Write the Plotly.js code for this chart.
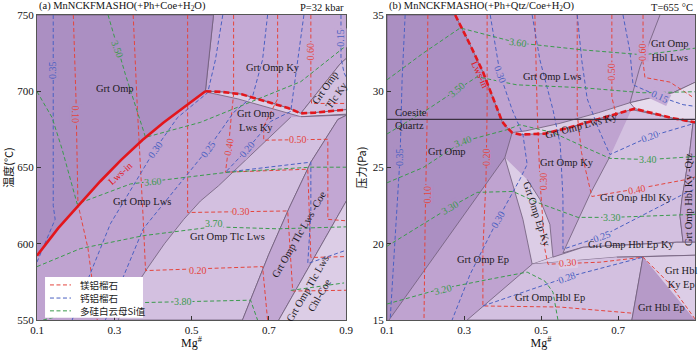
<!DOCTYPE html>
<html><head><meta charset="utf-8">
<script src="https://cdn.plot.ly/plotly-3.0.1.min.js"></script>
<style>body{margin:0;background:#fff}#chart{width:700px;height:350px}</style>
</head><body><div id="chart"></div>
<script>
// ---------------- ticks ----------------
const mgTicks = [0.1, 0.3, 0.5, 0.7, 0.9];
const tTicks = [550, 600, 650, 700, 750];
const pTicks = [15, 20, 25, 30, 35];

// ---------------- panel (a): Mg# vs T(°C) fields ----------------
const aLwsInX = [0.536, 0.482, 0.427, 0.373, 0.318, 0.264, 0.209, 0.155, 0.1];
const aLwsInT = [700, 690, 679.4, 668, 655, 641, 625.7, 610.2, 592.2];
const aGrtOmpX = [0.1, 0.557].concat(aLwsInX);
const aGrtOmpT = [750, 750].concat(aLwsInT);
const aKyX = [0.557, 0.536, 0.58, 0.63, 0.70, 0.75, 0.783, 0.885, 0.903, 0.903];
const aKyT = [750, 700, 699.5, 698, 693, 689, 685.5, 718, 722, 750];
const aTlcKyX = [0.783, 0.885, 0.903, 0.903, 0.82];
const aTlcKyT = [685.5, 718, 722, 688, 686];
const aLwsKyX = [0.536, 0.58, 0.63, 0.70, 0.75, 0.783, 0.82, 0.903, 0.903, 0.783, 0.70, 0.62, 0.542];
const aLwsKyT = [700, 699.5, 698, 693, 689, 685.5, 686, 688, 685, 683.3, 689.5, 695, 699.3];
const aTlcLwsX = [0.757, 0.66, 0.57, 0.523, 0.48, 0.43, 0.386, 0.34, 0.31, 0.632, 0.70, 0.752, 0.809, 0.879, 0.903, 0.783];
const aTlcLwsT = [683, 660, 638, 628, 616, 600, 584, 566, 550, 550, 593, 623, 653.5, 681.5, 684.5, 683.3];
const aBandX = [0.632, 0.70, 0.752, 0.809, 0.879, 0.903, 0.903, 0.726];
const aBandT = [550, 593, 623, 653.5, 681.5, 684.5, 629, 550];
const aChlX = [0.726, 0.903, 0.903];
const aChlT = [550, 629, 550];
const aLwsDashX = [0.536, 0.58, 0.63, 0.70, 0.75, 0.783, 0.82, 0.903];
const aLwsDashT = [700, 699.5, 698, 693, 689, 685.5, 686, 688];

// panel (a) isopleths
const aPy10X = [0.194, 0.201, 0.206, 0.232, 0.256], aPy10T = [750, 694.6, 626, 597, 550];
const aPy20X = [0.349, 0.36, 0.375, 0.381, 0.684, 0.697], aPy20T = [750, 688, 616, 582.4, 585, 550];
const aPy30X = [0.49, 0.49, 0.749, 0.762, 0.903], aPy30T = [750, 620.5, 621.5, 569, 569.5];
const aPy40X = [0.609, 0.609, 0.601, 0.596, 0.588, 0.801, 0.809, 0.903], aPy40T = [750, 698, 678.3, 663.3, 646.9, 648.9, 591, 591.6];
const aPy50X = [0.723, 0.723, 0.687, 0.687, 0.853, 0.853, 0.903], aPy50T = [750, 695, 677, 667.9, 668.5, 616, 615];
const aPy60X = [0.809, 0.809, 0.811, 0.903], aPy60T = [750, 697, 692, 692];
const aGr35X = [0.142, 0.142, 0.147, 0.1], aGr35T = [750, 625, 616, 588];
const aGr30X = [0.581, 0.562, 0.542, 0.464, 0.406, 0.29, 0.212, 0.191], aGr30T = [750, 720.7, 699.1, 682.8, 662, 613.1, 564.2, 550];
const aGr25X = [0.697, 0.684, 0.658, 0.609, 0.542, 0.375, 0.277], aGr25T = [750, 720.7, 696.5, 686.1, 662, 609.8, 550];
const aGr20X = [0.791, 0.775, 0.757, 0.705, 0.64, 0.588, 0.809, 0.809, 0.801, 0.903], aGr20T = [750, 720.7, 686.8, 680.2, 660.7, 646.9, 653.5, 620, 587, 596];
const aGr15X = [0.887, 0.887, 0.895, 0.903], aGr15T = [750, 722, 712, 708];
const aSi50X = [0.284, 0.329, 0.381, 0.523, 0.783, 0.903], aSi50T = [750, 710.9, 669.8, 679.6, 706.3, 730.4];
const aSi60X = [0.1, 0.139, 0.165, 0.204, 0.342, 0.594, 0.809, 0.903], aSi60T = [699.8, 682.8, 662, 626.1, 639.2, 646.9, 650.2, 650.2];
const aSi70X = [0.1, 0.212, 0.375, 0.557, 0.723, 0.903], aSi70T = [585, 596.8, 605.3, 611.1, 609.8, 611.1];
const aSi80X = [0.116, 0.29, 0.479, 0.653, 0.671, null, 0.757, 0.895], aSi80T = [550, 561, 562, 563, 550, null, 569.4, 574.3];

// ---------------- panel (b): Mg# vs P fields ----------------
const bLwsInX = [0.277, 0.316, 0.349, 0.381, 0.399, 0.412, 0.425, 0.445, 0.51, 0.57, 0.65, 0.744, 0.835, 0.905];
const bLwsInP = [35, 33.04, 31.27, 29.12, 28.01, 27.61, 27.29, 27.16, 27.22, 27.6, 28.2, 28.86, 28.27, 27.94];
const bGrtOmpX = [0.1, 0.1, 0.277, 0.316, 0.349, 0.381, 0.399, 0.412, 0.425, 0.406, 0.105];
const bGrtOmpP = [15, 35, 35, 33.04, 31.27, 29.12, 28.01, 27.61, 27.29, 25.65, 15];
const bHblLwsX = [0.809, 0.757, 0.731, 0.843, 0.903, 0.903];
const bHblLwsP = [35, 31.6, 29.25, 29.9, 30.62, 35];
const bPaleX = [0.731, 0.843, 0.903, 0.903, 0.835, 0.744];
const bPaleP = [29.25, 29.9, 30.62, 27.94, 28.27, 28.86];
const bLwsKyX = [0.425, 0.46, 0.55, 0.65, 0.731, 0.744, 0.65, 0.57, 0.51, 0.445];
const bLwsKyP = [27.29, 27.4, 27.9, 28.6, 29.25, 28.86, 28.2, 27.6, 27.22, 27.16];
const bHblKyX = [0.735, 0.835, 0.895, 0.887, 0.866, 0.861, 0.869, 0.853, 0.609, 0.557, 0.596, 0.627, 0.679];
const bHblKyP = [28.8, 28.27, 27.94, 26.18, 22.91, 21.8, 20.1, 20.1, 19.77, 19.4, 21.6, 23.24, 25.72];
const bQtzX = [0.895, 0.887, 0.866, 0.861, 0.869, 0.903, 0.903];
const bQtzP = [27.94, 26.18, 22.91, 21.8, 20.1, 20.1, 27.94];
const bEpKyX = [0.406, 0.427, 0.453, 0.477, 0.531, 0.523, 0.497, 0.464];
const bEpKyP = [25.65, 23.89, 21.6, 18.66, 19.12, 21.27, 22.91, 24.22];
const bHblEpKyX = [0.531, 0.609, 0.853, 0.903, 0.903, 0.697, 0.477];
const bHblEpKyP = [19.12, 19.77, 20.1, 20.1, 19.25, 19.12, 18.66];
const bHblEpX = [0.477, 0.349, 0.308, 0.736, 0.765, 0.697];
const bHblEpP = [18.66, 15.92, 15, 15, 19.15, 19.12];
const bGrtHblEpX = [0.765, 0.736, 0.90];
const bGrtHblEpP = [19.15, 15, 15];
const bHblKyEpX = [0.765, 0.903, 0.903, 0.90];
const bHblKyEpP = [19.15, 19.25, 15.2, 15];
const bCoeQzX = [0.1, 0.9], bCoeQzP = [28.15, 28.15];

// panel (b) isopleths
const bPy10X = [0.206, 0.204, 0.199, 0.196], bPy10P = [35, 28, 21.6, 15];
const bPy20X = [0.36, 0.36, 0.357, 0.349, 0.349, 0.549, 0.736], bPy20P = [35, 28.79, 24.22, 19.64, 15.92, 15.85, 15.45];
const bPy30X = [0.484, 0.49, 0.497, 0.505, 0.51, 0.518, 0.653, 0.765, 0.835, 0.90], bPy30P = [35, 28.79, 24.22, 21.6, 19.64, 18.66, 18.79, 19.12, 17.35, 15.07];
const bPy40X = [0.594, 0.594, 0.605, 0.632, 0.749, 0.879, 0.903], bPy40P = [35, 28.5, 26, 23.1, 23.6, 24.22, 24.4];
const bPy50X = [0.684, 0.684, 0.697], bPy50P = [35, 29.6, 28.3];
const bPy60X = [0.765, 0.765, 0.77, 0.835, 0.895], bPy60P = [35, 31.9, 30.9, 30.6, 29.6];
const bGr35X = [0.147, 0.139, 0.134, 0.121, 0.108], bGr35P = [35, 30.7, 25.8, 20.5, 15];
const bGr30X = [0.368, 0.394, 0.425, 0.453, 0.464, 0.445, 0.388, 0.316, 0.269], bGr30P = [35, 31.08, 28.79, 27.16, 25.2, 24.22, 21.6, 18.01, 15];
const bGr28X = [0.349, 0.568, 0.765], bGr28P = [15.92, 17.81, 19.12];
const bGr25X = [0.477, 0.497, 0.531, 0.55, 0.557, 0.557, 0.658, 0.879, 0.903], bGr25P = [35, 32.06, 28.79, 26.5, 23, 19.64, 20.49, 23.37, 23.6];
const bGr20X = [0.594, 0.606, 0.62, 0.65, 0.679, 0.783, 0.887, 0.903], bGr20P = [35, 32, 29.5, 27.5, 25.85, 27.03, 27.81, 27.95];
const bGr15X = [0.713, 0.731, 0.739, 0.809, 0.869, 0.903], bGr15P = [35, 32.6, 30.42, 29.64, 29.12, 29.0];
const bSi60X = [0.1, 0.194, 0.29, 0.44, 0.609, 0.765, 0.905], bSi60P = [30.75, 32.5, 34.15, 33.17, 32.71, 32.39, 32.84];
const bSi50X = [0.1, 0.204, 0.282, 0.334, 0.437, 0.609, 0.765, 0.905], bSi50P = [27.2, 28.79, 30.1, 30.95, 30.42, 30.23, 29.9, 29.97];
const bSi40X = [0.1, 0.194, 0.297, 0.412, 0.445, 0.531, 0.627, 0.679, 0.778, 0.903], bSi40P = [24.0, 25.0, 26.7, 27.48, 27.8, 27.29, 26.18, 25.6, 25.52, 25.72];
const bSi30X = [0.1, 0.264, 0.334, 0.427, 0.49, 0.596, 0.684, 0.879, 0.903], bSi30P = [19.84, 22.39, 23.37, 23.43, 22.71, 21.73, 21.73, 21.93, 21.93];
const bSi20X = [0.1, 0.238, 0.368, 0.464, 0.51, 0.531, 0.544], bSi20P = [16.05, 17.03, 17.68, 18.14, 17.55, 16.83, 15];

// ---------------- labels ----------------
const aFieldText = ["Grt Omp", "Grt Omp Ky", "Grt Omp<br>Tlc Ky", "Grt Omp<br>Lws Ky", "Grt Omp Lws", "Grt Omp Tlc Lws", "Grt Omp Tlc Lws -Coe", "Grt Omp Tlc Lws<br>Chl-Coe"];
const aFieldX = [0.303, 0.71, 0.861, 0.666, 0.373, 0.594, 0.778, 0.817];
const aFieldT = [701.7, 715.4, 699.8, 681, 627.4, 604.6, 606, 568.7];
const aFieldAng = [0, 0, -55, 0, 0, 0, -60, -60];

const aValText = ["0.35", "0.10", "3.50", "0.30", "0.25", "0.40", "0.20", "0.50", "3.60", "0.30", "3.70", "0.20", "3.80", "0.15", "0.60", "Lws-in"];
const aValX = [0.142, 0.201, 0.308, 0.406, 0.542, 0.596, 0.643, 0.775, 0.401, 0.627, 0.557, 0.516, 0.479, 0.887, 0.809, 0.315];
const aValT = [714, 684.8, 727.2, 662, 662, 663.3, 662, 668.5, 641.1, 620.9, 613, 582.4, 562.2, 735, 725.9, 646];
const aValAng = [-90, 90, 70, -55, -55, -80, -50, 0, -5, 0, 0, 0, 0, -90, -90, -42];
const aValKind = ["gr", "py", "si", "gr", "gr", "py", "gr", "py", "si", "py", "si", "py", "si", "gr", "py", "lws"];
const aValBg = ["dark", "dark", "dark", "mid", "mid", "mid", "mid", "light", "mid", "light", "light", "light", "light", "ky", "ky", "none"];

const bFieldText = ["Grt Omp Lws", "Grt Omp<br>Hbl Lws", "Grt Omp", "Grt Omp Lws Ky", "Grt Omp Ky", "Grt Omp Hbl Ky", "Grt Omp Hbl Ky -Qtz", "Grt Omp Ep Ky", "Grt Omp Hbl Ep Ky", "Grt Omp Ep", "Grt Omp Hbl Ep", "Grt Hbl Ep", "Grt Hbl<br>Ky Ep"];
const bFieldX = [0.529, 0.835, 0.256, 0.606, 0.568, 0.747, 0.883, 0.49, 0.734, 0.349, 0.523, 0.814, 0.864];
const bFieldP = [30.95, 32.7, 26.04, 27.75, 25.33, 23.04, 22.9, 21.93, 19.97, 18.99, 16.5, 15.85, 17.81];
const bFieldAng = [0, 0, 0, -15, 0, 0, -90, 72, 0, 0, 0, 0, 0];
const bPhaseText = ["Coesite", "Quartz"];
const bPhaseX = [0.118, 0.118];
const bPhaseP = [28.62, 27.75];

const bValText = ["0.35", "0.10", "0.20", "0.30", "0.50", "0.60", "0.40", "0.30", "0.30", "0.30", "0.15", "0.20", "0.25", "0.28", "3.60", "3.50", "3.40", "3.40", "3.30", "3.30", "3.20", "Lws-in"];
const bValX = [0.134, 0.204, 0.36, 0.505, 0.684, 0.765, 0.749, 0.57, 0.394, 0.388, 0.809, 0.783, 0.658, 0.568, 0.44, 0.282, 0.297, 0.778, 0.264, 0.684, 0.245, 0.342];
const bValP = [25.7, 23.24, 25.7, 24.09, 31.27, 32.58, 23.56, 18.79, 31.08, 21.6, 29.64, 27.03, 20.49, 17.81, 33.17, 30.1, 26.7, 25.52, 22.39, 21.73, 17.03, 31.1];
const bValAng = [-90, -90, -90, -90, -90, -90, -10, -5, 70, -60, 25, -20, -20, -20, 8, -40, -20, 0, -30, 0, -15, 65];
const bValKind = ["gr", "py", "py", "py", "py", "py", "py", "py", "gr", "gr", "gr", "gr", "gr", "gr", "si", "si", "si", "si", "si", "si", "si", "lws"];
const bValBg = ["dark", "dark", "dark", "mid", "mid", "mid", "light", "paler", "mid", "mid", "ky", "light", "light", "light", "mid", "dark", "dark", "light", "dark", "light", "mid", "none"];

// legend
const legendText = ["镁铝榴石", "钙铝榴石", "多硅白云母Si值"];
const legendKind = ["py", "gr", "si"];

// ---------------- styling ----------------
const SERIF = "Liberation Serif, 'Times New Roman', 'Noto Sans CJK SC', serif";
const CJK = "'Noto Sans CJK SC', 'Liberation Serif', serif";
const COL = {py: "#e4453d", gr: "#4a60c2", si: "#3b9a4d", lws: "#e3161c"};
const FILL = {dark: "#ab8fc2", mid: "#bfa3d0", ky: "#c4aad5", light: "#d3c0e0", paler: "#dccde6", palest: "#e6dbed", band: "#c2a7d3", hblep: "#b69ac8", none: "rgba(0,0,0,0)"};
const DASH = "4px,2.5px";

const traces = [];
function poly(x, y, color, xa, ya) {
  traces.push({type: "scatter", mode: "lines", x: x, y: y, fill: "toself", fillcolor: color,
    line: {color: "#6e5d78", width: 0.8}, xaxis: xa, yaxis: ya, hoverinfo: "skip", showlegend: false});
}
function iso(x, y, kind, xa, ya) {
  traces.push({type: "scatter", mode: "lines", x: x, y: y, connectgaps: false,
    line: {color: COL[kind], width: 1, dash: DASH}, xaxis: xa, yaxis: ya, hoverinfo: "skip", showlegend: false});
}
function thick(x, y, dash, xa, ya) {
  traces.push({type: "scatter", mode: "lines", x: x, y: y,
    line: {color: COL.lws, width: 2.6, dash: dash}, xaxis: xa, yaxis: ya, hoverinfo: "skip", showlegend: false});
}

// panel a fields
poly(aKyX, aKyT, FILL.ky, "x", "y");
poly(aGrtOmpX, aGrtOmpT, FILL.dark, "x", "y");
poly(aTlcKyX, aTlcKyT, FILL.light, "x", "y");
poly(aLwsKyX, aLwsKyT, FILL.paler, "x", "y");
poly(aTlcLwsX, aTlcLwsT, FILL.light, "x", "y");
poly(aBandX, aBandT, FILL.band, "x", "y");
poly(aChlX, aChlT, FILL.paler, "x", "y");
// panel b fields
poly(bGrtOmpX, bGrtOmpP, FILL.dark, "x2", "y2");
poly(bHblLwsX, bHblLwsP, FILL.ky, "x2", "y2");
poly(bPaleX, bPaleP, FILL.palest, "x2", "y2");
poly(bLwsKyX, bLwsKyP, FILL.paler, "x2", "y2");
poly(bHblKyX, bHblKyP, FILL.light, "x2", "y2");
poly(bQtzX, bQtzP, FILL.band, "x2", "y2");
poly(bEpKyX, bEpKyP, FILL.paler, "x2", "y2");
poly(bHblEpKyX, bHblEpKyP, FILL.paler, "x2", "y2");
poly(bHblEpX, bHblEpP, FILL.light, "x2", "y2");
poly(bGrtHblEpX, bGrtHblEpP, FILL.hblep, "x2", "y2");
poly(bHblKyEpX, bHblKyEpP, FILL.paler, "x2", "y2");

// isopleths
[[aPy10X, aPy10T], [aPy20X, aPy20T], [aPy30X, aPy30T], [aPy40X, aPy40T], [aPy50X, aPy50T], [aPy60X, aPy60T]].forEach(d => iso(d[0], d[1], "py", "x", "y"));
[[aGr35X, aGr35T], [aGr30X, aGr30T], [aGr25X, aGr25T], [aGr20X, aGr20T], [aGr15X, aGr15T]].forEach(d => iso(d[0], d[1], "gr", "x", "y"));
[[aSi50X, aSi50T], [aSi60X, aSi60T], [aSi70X, aSi70T], [aSi80X, aSi80T]].forEach(d => iso(d[0], d[1], "si", "x", "y"));
[[bPy10X, bPy10P], [bPy20X, bPy20P], [bPy30X, bPy30P], [bPy40X, bPy40P], [bPy50X, bPy50P], [bPy60X, bPy60P]].forEach(d => iso(d[0], d[1], "py", "x2", "y2"));
[[bGr35X, bGr35P], [bGr30X, bGr30P], [bGr28X, bGr28P], [bGr25X, bGr25P], [bGr20X, bGr20P], [bGr15X, bGr15P]].forEach(d => iso(d[0], d[1], "gr", "x2", "y2"));
[[bSi60X, bSi60P], [bSi50X, bSi50P], [bSi40X, bSi40P], [bSi30X, bSi30P], [bSi20X, bSi20P]].forEach(d => iso(d[0], d[1], "si", "x2", "y2"));

// Lws-in and coesite/quartz
thick(aLwsInX, aLwsInT, "solid", "x", "y");
thick(aLwsDashX, aLwsDashT, "6px,3px", "x", "y");
thick(bLwsInX, bLwsInP, "6px,3px", "x2", "y2");
traces.push({type: "scatter", mode: "lines", x: bCoeQzX, y: bCoeQzP, line: {color: "#3a3040", width: 1.3},
  xaxis: "x2", yaxis: "y2", hoverinfo: "skip", showlegend: false});

// annotations
const ann = [];
function txt(t, x, y, ang, xa, ya, color, size, anchor, bg) {
  ann.push({text: t, x: x, y: y, xref: xa, yref: ya, showarrow: false, textangle: ang,
    xanchor: anchor || "center", yanchor: "middle", bgcolor: bg || "rgba(0,0,0,0)", borderpad: 0,
    font: {family: SERIF, size: size, color: color}});
}
aFieldText.forEach((t, i) => txt(t, aFieldX[i], aFieldT[i], aFieldAng[i], "x", "y", "#1e1a22", 10.5));
aValText.forEach((t, i) => txt(t, aValX[i], aValT[i], aValAng[i], "x", "y", COL[aValKind[i]], 10, "center", FILL[aValBg[i]]));
bFieldText.forEach((t, i) => txt(t, bFieldX[i], bFieldP[i], bFieldAng[i], "x2", "y2", "#1e1a22", 10.5));
bPhaseText.forEach((t, i) => txt(t, bPhaseX[i], bPhaseP[i], 0, "x2", "y2", "#1e1a22", 10.5, "left"));
bValText.forEach((t, i) => txt(t, bValX[i], bValP[i], bValAng[i], "x2", "y2", COL[bValKind[i]], 10, "center", FILL[bValBg[i]]));

// panel titles
const titleA = "(a) MnNCKFMASHO(+Ph+Coe+H<sub>2</sub>O)", condA = "P=32 kbar";
const titleB = "(b) MnNCKFMASHO(+Ph+Qtz/Coe+H<sub>2</sub>O)", condB = "T=655 °C";
[[titleA, 0, "left"], [condA, 0.4696, "right"], [titleB, 0.532, "left"], [condB, 1, "right"]].forEach(d => {
  ann.push({text: d[0], x: d[1], y: 1, xref: "paper", yref: "paper", xanchor: d[2], yanchor: "bottom",
    showarrow: false, font: {family: SERIF, size: 10.5, color: "#111"}});
});

// legend box (panel a, lower left)
const shapes = [{type: "rect", xref: "x domain", yref: "y domain", x0: 0.026, x1: 0.343, y0: 0.007, y1: 0.141,
  fillcolor: "#ffffff", line: {width: 0}, layer: "above"}];
const legendRowY = [0.115, 0.072, 0.030];
legendText.forEach((t, i) => {
  shapes.push({type: "line", xref: "x domain", yref: "y domain", x0: 0.042, x1: 0.11, y0: legendRowY[i], y1: legendRowY[i],
    line: {color: COL[legendKind[i]], width: 1, dash: DASH}, layer: "above"});
  ann.push({text: t, x: 0.133, y: legendRowY[i], xref: "x domain", yref: "y domain", xanchor: "left", yanchor: "middle",
    showarrow: false, font: {family: CJK, size: 9.5, color: "#222"}});
});

function axis(extra) {
  return Object.assign({showgrid: false, zeroline: false, ticks: "inside", ticklen: 4, tickcolor: "#333",
    showline: true, mirror: true, linecolor: "#555", linewidth: 1,
    tickfont: {family: SERIF, size: 11, color: "#111"}}, extra);
}

const layout = {
  width: 700, height: 350,
  margin: {l: 37, r: 5, t: 15, b: 30},
  paper_bgcolor: "#fff", plot_bgcolor: FILL.mid,
  font: {family: SERIF},
  showlegend: false,
  xaxis: axis({domain: [0, 0.4696], range: [0.1, 0.9], tickvals: mgTicks, ticktext: mgTicks.map(v => v.toFixed(1)), anchor: "y",
    title: {text: "Mg<sup>#</sup>", font: {family: SERIF, size: 12, color: "#111"}, standoff: 2}}),
  yaxis: axis({domain: [0, 1], range: [550, 750], tickvals: tTicks, anchor: "x",
    title: {text: "温度(°C)", font: {family: CJK, size: 11, color: "#111"}, standoff: 4}}),
  xaxis2: axis({domain: [0.532, 1], range: [0.1, 0.9], tickvals: mgTicks, ticktext: mgTicks.map(v => v.toFixed(1)), anchor: "y2",
    title: {text: "Mg<sup>#</sup>", font: {family: SERIF, size: 12, color: "#111"}, standoff: 2}}),
  yaxis2: axis({domain: [0, 1], range: [15, 35], tickvals: pTicks, anchor: "x2",
    title: {text: "压力(Pa)", font: {family: CJK, size: 11, color: "#111"}, standoff: 4}}),
  shapes: shapes,
  annotations: ann
};

Plotly.newPlot("chart", traces, layout, {staticPlot: true, displayModeBar: false});
</script>
</body></html>
